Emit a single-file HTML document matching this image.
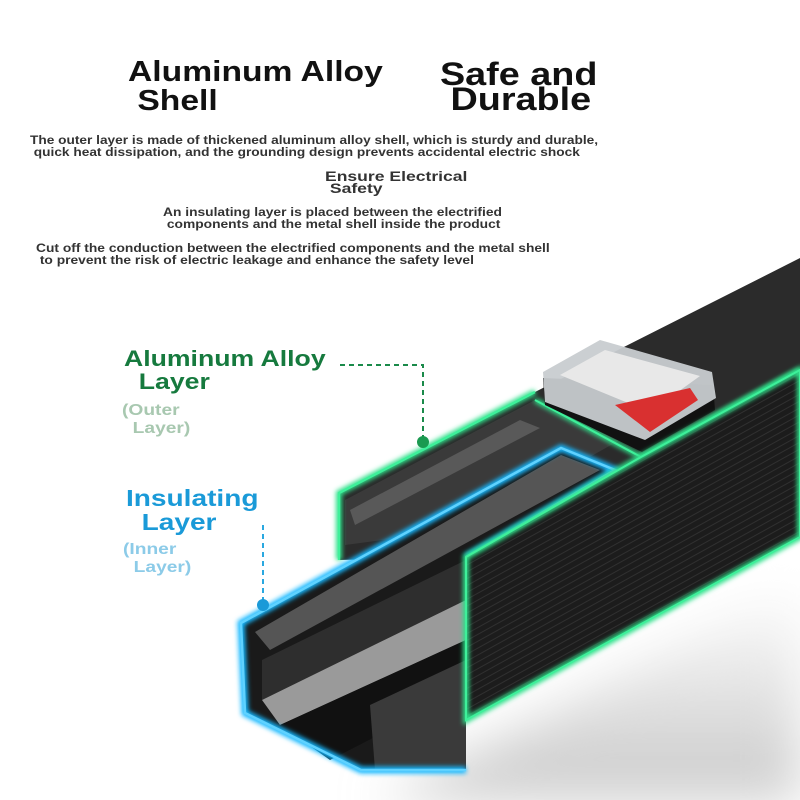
<!DOCTYPE html>
<html><head><meta charset="utf-8"><style>
html,body{margin:0;padding:0;background:#fff;width:800px;height:800px;overflow:hidden;font-family:"Liberation Sans",sans-serif}
.t{position:absolute;font-weight:bold;white-space:nowrap;transform-origin:0 0}
</style></head><body>
<svg width="800" height="800" style="position:absolute;left:0;top:0">
<defs>
<linearGradient id="sh" x1="0" y1="0" x2="0" y2="1"><stop offset="0" stop-color="#fff"/><stop offset="1" stop-color="#c8c8c8"/></linearGradient>
<filter id="gl" x="-20%" y="-20%" width="140%" height="140%"><feGaussianBlur stdDeviation="2.5"/></filter>
<filter id="bl" x="-30%" y="-30%" width="160%" height="160%"><feGaussianBlur stdDeviation="25"/></filter>
<pattern id="stripe" width="800" height="6" patternUnits="userSpaceOnUse" patternTransform="rotate(-29)"><rect width="800" height="6" fill="#1c1c1c"/><rect y="0" width="800" height="1" fill="#303030"/></pattern>
</defs>
<polygon points="380,800 800,580 800,800" fill="url(#sh)" filter="url(#bl)"/>
<polygon points="339,493 535,392 800,258 800,370 641,457 466,557 339,560" fill="#2b2b2b"/>
<polygon points="345,500 535,400 620,440 460,530 345,545" fill="#3a3a3a"/>
<polygon points="350,510 520,420 540,428 355,525" fill="#777" opacity="0.5"/>
<polyline points="339,560 339,493 535,392" fill="none" stroke="#2de08a" stroke-width="6" filter="url(#gl)"/>
<polyline points="339,560 339,493 535,392" fill="none" stroke="#3ef09a" stroke-width="2.5"/>
<polyline points="535,400 641,457 800,370" fill="none" stroke="#2de08a" stroke-width="5" filter="url(#gl)"/>
<polyline points="535,400 641,457 800,370" fill="none" stroke="#3ef09a" stroke-width="2"/>
<polygon points="543,378 545,405 642,452 715,410 713,385" fill="#111"/>
<polygon points="543,372 600,340 712,372 716,398 645,440 545,402" fill="#c8ccd0" opacity="0.95"/>
<polygon points="560,375 605,350 700,376 650,412" fill="#e8e8e8"/>
<polygon points="615,405 690,388 698,400 650,432" fill="#d93030"/>
<polygon points="241,623 561,448 615,470 466,557 466,770 361,770 245,713" fill="#1a1a1a"/>
<polygon points="255,632 561,455 600,470 270,650" fill="#555"/>
<polygon points="262,660 466,560 466,600 262,700" fill="#2e2e2e"/>
<polygon points="262,700 466,600 466,640 280,725" fill="#9a9a9a"/>
<polygon points="280,725 466,640 466,690 330,760" fill="#111"/>
<polygon points="370,705 466,660 466,770 375,770" fill="#3a3a3a"/>
<polyline points="466,557 615,470 561,448 241,623 245,713 361,770 466,770" fill="none" stroke="#19b8ff" stroke-width="7" filter="url(#gl)"/>
<polyline points="466,557 615,470 561,448 241,623 245,713 361,770 466,770" fill="none" stroke="#5fd2ff" stroke-width="2.5"/>
<polygon points="466,557 641,457 800,370 800,537 466,720" fill="url(#stripe)"/>
<polygon points="466,557 641,457 800,370 800,537 466,720" fill="none" stroke="#2de08a" stroke-width="6" filter="url(#gl)"/>
<polygon points="466,557 641,457 800,370 800,537 466,720" fill="none" stroke="#3ef09a" stroke-width="2"/>
<polyline points="340,365 423,365 423,440" fill="none" stroke="#1a8a4a" stroke-width="2" stroke-dasharray="5,4"/>
<circle cx="423" cy="442" r="6" fill="#1a9a50"/>
<polyline points="263,525 263,603" fill="none" stroke="#2aa8e0" stroke-width="2" stroke-dasharray="5,4"/>
<circle cx="263" cy="605" r="6" fill="#1a9ad8"/>
</svg>
<div class="t" style="left:128px;top:58px;font-size:29px;line-height:29px;color:#111;transform:scaleX(1.16)">Aluminum Alloy<br>&nbsp;Shell</div>
<div class="t" style="left:440px;top:62px;font-size:32px;line-height:25px;color:#111;transform:scaleX(1.18)">Safe and<br>&nbsp;Durable</div>
<div class="t" style="left:30px;top:135px;font-size:11.5px;line-height:12px;color:#333;transform:scaleX(1.19)">The outer layer is made of thickened aluminum alloy shell, which is sturdy and durable,<br>&nbsp;quick heat dissipation, and the grounding design prevents accidental electric shock</div>
<div class="t" style="left:325px;top:171px;font-size:13.5px;line-height:12px;color:#333;transform:scaleX(1.3)">Ensure Electrical<br>&nbsp;Safety</div>
<div class="t" style="left:163px;top:207px;font-size:11.5px;line-height:12px;color:#333;transform:scaleX(1.2)">An insulating layer is placed between the electrified<br>&nbsp;components and the metal shell inside the product</div>
<div class="t" style="left:36px;top:243px;font-size:11.5px;line-height:12px;color:#333;transform:scaleX(1.2)">Cut off the conduction between the electrified components and the metal shell<br>&nbsp;to prevent the risk of electric leakage and enhance the safety level</div>
<div class="t" style="left:124px;top:347px;font-size:22px;line-height:23px;color:#167a3e;transform:scaleX(1.21)">Aluminum Alloy<br>&nbsp;&nbsp;Layer</div>
<div class="t" style="left:122px;top:402px;font-size:16px;line-height:18px;color:#a8c8b0;transform:scaleX(1.2)">(Outer<br>&nbsp;&nbsp;Layer)</div>
<div class="t" style="left:126px;top:486px;font-size:23px;line-height:24px;color:#1a9ad8;transform:scaleX(1.22)">Insulating<br>&nbsp;&nbsp;Layer</div>
<div class="t" style="left:123px;top:541px;font-size:16px;line-height:18px;color:#8ccbe8;transform:scaleX(1.2)">(Inner<br>&nbsp;&nbsp;Layer)</div>
</body></html>
